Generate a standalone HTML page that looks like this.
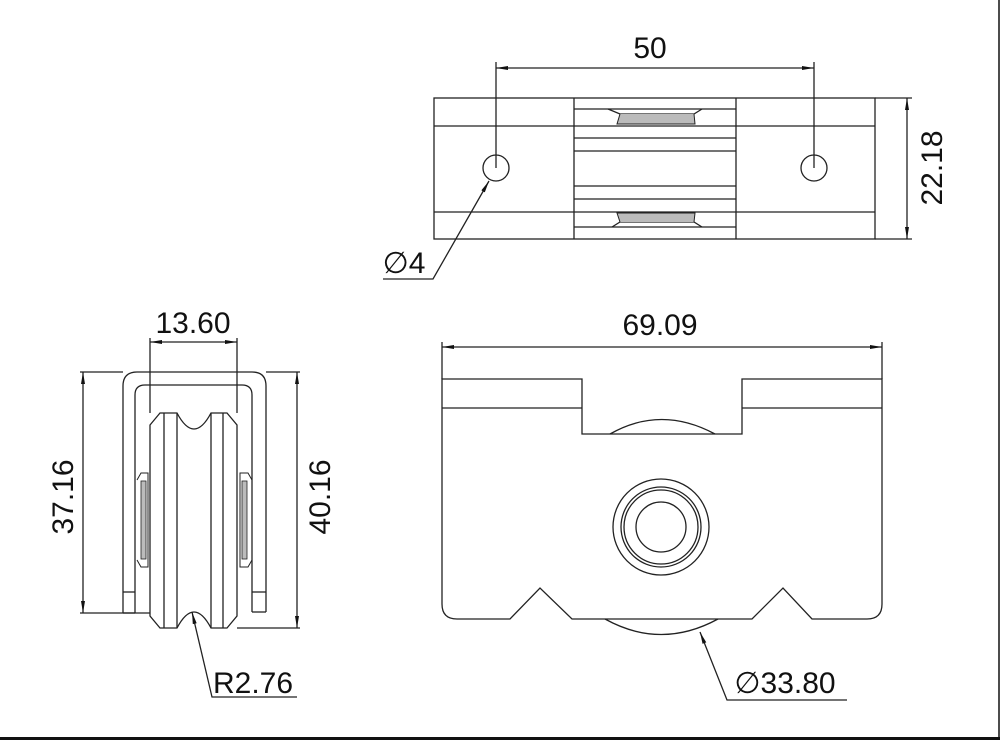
<!DOCTYPE html>
<html><head><meta charset="utf-8"><style>
html,body{margin:0;padding:0;background:#fff;}
svg{display:block;}
text{font-family:"Liberation Sans",sans-serif;fill:#111;}
</style></head><body>
<svg width="1000" height="740" viewBox="0 0 1000 740" xmlns="http://www.w3.org/2000/svg">
<defs>
<marker id="a" viewBox="0 0 12 6" refX="12" refY="3" markerWidth="12" markerHeight="6" orient="auto-start-reverse" markerUnits="userSpaceOnUse"><path d="M0,1 L12,3 L0,5 Z" fill="#111"/></marker>
</defs>
<g fill="none" stroke="#222" stroke-width="1.3">
<!-- TOP VIEW -->
<rect x="434" y="98" width="441" height="141"/>
<line x1="574" y1="98" x2="574" y2="239"/>
<line x1="736" y1="98" x2="736" y2="239"/>
<line x1="434" y1="126" x2="574" y2="126"/><line x1="736" y1="126" x2="875" y2="126"/>
<line x1="434" y1="212" x2="574" y2="212"/><line x1="736" y1="212" x2="875" y2="212"/>
<line x1="574" y1="109" x2="736" y2="109"/>
<line x1="574" y1="126" x2="736" y2="126"/>
<line x1="574" y1="138" x2="736" y2="138"/>
<line x1="574" y1="151" x2="736" y2="151"/>
<line x1="574" y1="186" x2="736" y2="186"/>
<line x1="574" y1="199" x2="736" y2="199"/>
<line x1="574" y1="212" x2="736" y2="212"/>
<line x1="574" y1="227" x2="736" y2="227"/>
<path d="M608,109 L620,114 L694,114 L702,109"/>
<path d="M620,114 L617,124 L695,124 L694,114" fill="#bbb" stroke-width="1"/>
<path d="M612,227 L620,222 L694,222 L702,227"/>
<path d="M620,222 L617,213 L695,213 L694,222" fill="#bbb" stroke-width="1"/>
<circle cx="496" cy="168" r="13"/>
<circle cx="814" cy="168" r="13"/>
<line x1="496" y1="62" x2="496" y2="168"/>
<line x1="814" y1="62" x2="814" y2="168"/>
<line x1="496" y1="68" x2="814" y2="68" marker-start="url(#a)" marker-end="url(#a)"/>
<line x1="875" y1="98" x2="912" y2="98"/>
<line x1="875" y1="239" x2="912" y2="239"/>
<line x1="907" y1="98" x2="907" y2="239" marker-start="url(#a)" marker-end="url(#a)"/>
<polyline points="383,279 433,279 489,181" marker-end="url(#a)"/>
<!-- SIDE VIEW -->
<path d="M123,613 L123,386 Q123,372 137,372 L252,372 Q266,372 266,386 L266,612"/>
<path d="M135,613 L135,395 Q135,385 145,385 L242,385 Q252,385 252,395 L252,612"/>
<line x1="123" y1="613" x2="135" y2="613"/><line x1="252" y1="612" x2="266" y2="612"/>
<line x1="123" y1="592" x2="135" y2="592"/><line x1="252" y1="592" x2="266" y2="592"/>
<path d="M150,425 L160,413 L177,413 Q194,445 211,413 L227,413 L237,425 L237,616 L227,628 L211,628 Q194,596 177,628 L160,628 L150,616 Z"/>
<line x1="164" y1="413" x2="164" y2="628"/><line x1="177" y1="413" x2="177" y2="628"/>
<line x1="211" y1="413" x2="211" y2="628"/><line x1="223" y1="413" x2="223" y2="628"/>
<path d="M137,480 L141,473 L148,473 L148,567 L141,567 L137,560" stroke-width="1"/>
<rect x="141" y="481" width="5" height="78" fill="#bbb" stroke-width="0.8"/>
<path d="M252,480 L248,473 L240,473 L240,567 L248,567 L252,560" stroke-width="1"/>
<rect x="242" y="481" width="5" height="78" fill="#bbb" stroke-width="0.8"/>
<line x1="150" y1="338" x2="150" y2="413"/>
<line x1="237" y1="338" x2="237" y2="413"/>
<line x1="150" y1="342" x2="237" y2="342" marker-start="url(#a)" marker-end="url(#a)"/>
<line x1="80" y1="372" x2="123" y2="372"/>
<line x1="80" y1="613" x2="150" y2="613"/>
<line x1="83" y1="372" x2="83" y2="613" marker-start="url(#a)" marker-end="url(#a)"/>
<line x1="266" y1="372" x2="300" y2="372"/>
<line x1="237" y1="628" x2="300" y2="628"/>
<line x1="297" y1="372" x2="297" y2="628" marker-start="url(#a)" marker-end="url(#a)"/>
<polyline points="297,697 212,697 192,612" marker-end="url(#a)"/>
<!-- FRONT VIEW -->
<path d="M442,379 L582,379 L582,434 L742,434 L742,379 L882,379 L882,604 Q882,619 867,619 L812,619 L783,588 L752,619 L572,619 L540,588 L510,619 L457,619 Q442,619 442,604 Z"/>
<line x1="442" y1="408" x2="582" y2="408"/><line x1="742" y1="408" x2="882" y2="408"/>
<path d="M610,434 Q661,405 715,434"/>
<path d="M605,619 Q661,650 718,619"/>
<circle cx="661" cy="527" r="48"/>
<circle cx="661" cy="527" r="40"/>
<circle cx="661" cy="527" r="37"/>
<circle cx="661" cy="527" r="25"/>
<line x1="442" y1="342" x2="442" y2="379"/>
<line x1="882" y1="342" x2="882" y2="379"/>
<line x1="442" y1="347" x2="882" y2="347" marker-start="url(#a)" marker-end="url(#a)"/>
<polyline points="847,700 727,700 700,632" marker-end="url(#a)"/>
</g>
<text x="650" y="58" font-size="30" text-anchor="middle">50</text>
<text transform="translate(942,168) rotate(-90)" font-size="30" text-anchor="middle">22.18</text>
<text x="404" y="273" font-size="30" text-anchor="middle">∅4</text>
<text x="193" y="333" font-size="30" text-anchor="middle">13.60</text>
<text transform="translate(73,497) rotate(-90)" font-size="30" text-anchor="middle">37.16</text>
<text transform="translate(330,497) rotate(-90)" font-size="30" text-anchor="middle">40.16</text>
<text x="253" y="693" font-size="30" text-anchor="middle">R2.76</text>
<text x="660" y="335" font-size="30" text-anchor="middle">69.09</text>
<text x="785" y="693" font-size="30" text-anchor="middle">∅33.80</text>
<line x1="0" y1="738.5" x2="1000" y2="738.5" stroke="#111" stroke-width="3"/>
<line x1="999" y1="0" x2="999" y2="740" stroke="#111" stroke-width="1.5"/>
</svg>
</body></html>
